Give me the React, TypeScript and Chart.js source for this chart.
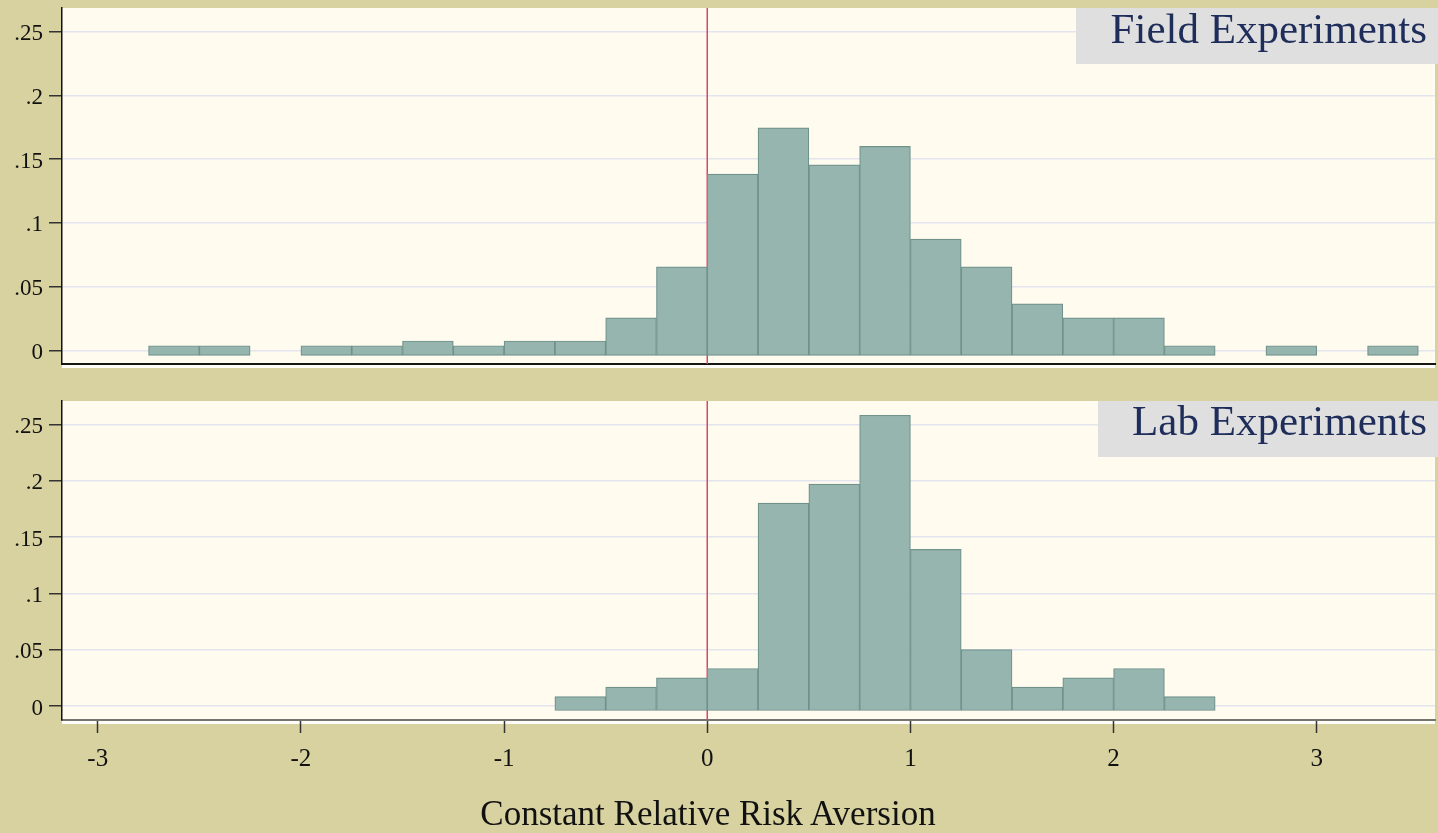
import React, { useEffect, useRef } from "react";
import { Chart, registerables } from "chart.js";

Chart.register(...registerables);

// ---------------- data ----------------
const BIN_WIDTH = 0.25;
const fieldBinStarts = [-2.75, -2.5, -2.0, -1.75, -1.5, -1.25, -1.0, -0.75, -0.5, -0.25, 0, 0.25, 0.5, 0.75, 1.0, 1.25, 1.5, 1.75, 2.0, 2.25, 2.75, 3.25];
const fieldShares = [0.0036, 0.0036, 0.0036, 0.0036, 0.0073, 0.0036, 0.0073, 0.0073, 0.0255, 0.0655, 0.1382, 0.1745, 0.1455, 0.16, 0.0873, 0.0655, 0.0364, 0.0255, 0.0255, 0.0036, 0.0036, 0.0036];
const labBinStarts = [-0.75, -0.5, -0.25, 0, 0.25, 0.5, 0.75, 1.0, 1.25, 1.5, 1.75, 2.0, 2.25];
const labShares = [0.0083, 0.0167, 0.025, 0.0333, 0.18, 0.197, 0.258, 0.139, 0.05, 0.0167, 0.025, 0.0333, 0.0083];
const yTickValues = [0, 0.05, 0.1, 0.15, 0.2, 0.25];
const xTickValues = [-3, -2, -1, 0, 1, 2, 3];
const referenceValue = 0;
const panelTitles = ["Field Experiments", "Lab Experiments"];
const xAxisTitle = "Constant Relative Risk Aversion";

// ---------------- style ----------------
const FONT = "'Liberation Serif', 'DejaVu Serif', serif";
const KHAKI = "#d8d2a0";
const CREAM = "#fffbef";
const GRID = "#e3e5ee";
const BAR_FILL = "#97b5af";
const BAR_EDGE = "#6f928b";
const RED = "#d64868";
const TITLE_BOX = "#dfdfdf";
const TITLE_TEXT = "#1e2d5a";

const panelPlugin = {
  id: "panelDecor",
  beforeDraw(chart: any) {
    const { ctx, chartArea: a } = chart;
    ctx.save();
    ctx.fillStyle = CREAM;
    ctx.fillRect(a.left, a.top, a.right - a.left, a.bottom - a.top);
    ctx.fillStyle = "#fdfcf7";
    ctx.fillRect(a.left, a.bottom, a.right - a.left, 4);
    ctx.restore();
  },
  beforeDatasetsDraw(chart: any) {
    const { ctx, chartArea: a } = chart;
    const x = chart.scales.x.getPixelForValue(referenceValue);
    ctx.save();
    ctx.strokeStyle = RED;
    ctx.lineWidth = 1.5;
    ctx.beginPath();
    ctx.moveTo(x, a.top);
    ctx.lineTo(x, a.bottom);
    ctx.stroke();
    ctx.restore();
  },
};

type PanelOpts = {
  starts: number[];
  shares: number[];
  yMin: number;
  yMax: number;
  padTop: number;
  xAxisHeight: number;
  showXAxis: boolean;
};

function buildConfig(o: PanelOpts): any {
  const data = o.starts.map((s, i) => ({ x: s + BIN_WIDTH / 2, y: o.shares[i] }));
  return {
    type: "bar",
    data: {
      datasets: [
        {
          data,
          backgroundColor: BAR_FILL,
          borderColor: BAR_EDGE,
          borderWidth: 1.2,
          borderSkipped: false,
          barPercentage: 1,
          categoryPercentage: 1,
          base: -0.004,
        },
      ],
    },
    options: {
      animation: false,
      responsive: false,
      devicePixelRatio: 1,
      events: [],
      layout: { padding: { top: o.padTop, right: 3, left: 0, bottom: 0 } },
      plugins: { legend: { display: false }, tooltip: { enabled: false }, title: { display: false } },
      scales: {
        x: {
          type: "linear",
          min: -3.176,
          max: 3.582,
          offset: false,
          afterBuildTicks: (s: any) => {
            s.ticks = xTickValues.map((v) => ({ value: v }));
          },
          afterFit: (s: any) => {
            s.height = o.xAxisHeight;
            s.paddingLeft = 0;
            s.paddingRight = 0;
          },
          ticks: {
            display: o.showXAxis,
            autoSkip: false,
            maxRotation: 0,
            padding: 11,
            color: "#111",
            font: { family: FONT, size: 25 },
            callback: (v: any) => String(v),
          },
          grid: {
            display: o.showXAxis,
            offset: false,
            drawOnChartArea: false,
            drawTicks: true,
            tickLength: 13,
            tickColor: "#333",
            tickWidth: 1.5,
          },
          border: {
            display: true,
            color: o.showXAxis ? "#75756f" : "#151515",
            width: 2,
          },
        },
        y: {
          type: "linear",
          min: o.yMin,
          max: o.yMax,
          afterBuildTicks: (s: any) => {
            s.ticks = yTickValues.map((v) => ({ value: v }));
          },
          afterFit: (s: any) => {
            s.width = 62;
            s.paddingTop = 0;
            s.paddingBottom = 0;
          },
          ticks: {
            autoSkip: false,
            padding: 6,
            labelOffset: 2.5,
            color: "#111",
            font: { family: FONT, size: 23 },
            callback: (v: any) => (v === 0 ? "0" : String(Number(v.toFixed(2))).replace(/^0\./, ".")),
          },
          grid: {
            color: GRID,
            lineWidth: 1.5,
            drawTicks: true,
            tickLength: 13,
            tickColor: "#333",
            tickWidth: 1.5,
          },
          border: { display: true, color: "#111", width: 1.5 },
        },
      },
    },
    plugins: [panelPlugin],
  };
}

const titleBoxStyle = (left: number, top: number, width: number, height: number): React.CSSProperties => ({
  position: "absolute",
  left,
  top,
  width,
  height,
  background: TITLE_BOX,
});

const titleTextStyle = (top: number): React.CSSProperties => ({
  position: "absolute",
  right: 11,
  top,
  fontFamily: FONT,
  fontSize: 43,
  lineHeight: 1,
  color: TITLE_TEXT,
  whiteSpace: "nowrap",
});

export default function App() {
  const topRef = useRef<HTMLCanvasElement | null>(null);
  const botRef = useRef<HTMLCanvasElement | null>(null);

  useEffect(() => {
    const charts: Chart[] = [];
    if (topRef.current) {
      charts.push(
        new Chart(
          topRef.current,
          buildConfig({
            starts: fieldBinStarts,
            shares: fieldShares,
            yMin: -0.01075,
            yMax: 0.2686,
            padTop: 8,
            xAxisHeight: 8,
            showXAxis: false,
          })
        )
      );
    }
    if (botRef.current) {
      charts.push(
        new Chart(
          botRef.current,
          buildConfig({
            starts: labBinStarts,
            shares: labShares,
            yMin: -0.01242,
            yMax: 0.2707,
            padTop: 11,
            xAxisHeight: 113,
            showXAxis: true,
          })
        )
      );
    }
    return () => charts.forEach((c) => c.destroy());
  }, []);

  return (
    <div
      style={{
        position: "absolute",
        left: 0,
        top: 0,
        width: 1438,
        height: 833,
        background: KHAKI,
        overflow: "hidden",
      }}
    >
      <canvas
        ref={topRef}
        width={1438}
        height={372}
        style={{ position: "absolute", left: 0, top: 0, width: 1438, height: 372, display: "block" }}
      />
      <canvas
        ref={botRef}
        width={1438}
        height={443}
        style={{ position: "absolute", left: 0, top: 390, width: 1438, height: 443, display: "block" }}
      />
      <div style={titleBoxStyle(1076, 8, 362, 56)}>
        <div style={titleTextStyle(-1)}>{panelTitles[0]}</div>
      </div>
      <div style={titleBoxStyle(1098, 401, 340, 56)}>
        <div style={titleTextStyle(-2)}>{panelTitles[1]}</div>
      </div>
      <div
        style={{
          position: "absolute",
          left: 408,
          width: 600,
          top: 795,
          textAlign: "center",
          fontFamily: FONT,
          fontSize: 35,
          lineHeight: "38px",
          color: "#111",
          whiteSpace: "nowrap",
        }}
      >
        {xAxisTitle}
      </div>
    </div>
  );
}
